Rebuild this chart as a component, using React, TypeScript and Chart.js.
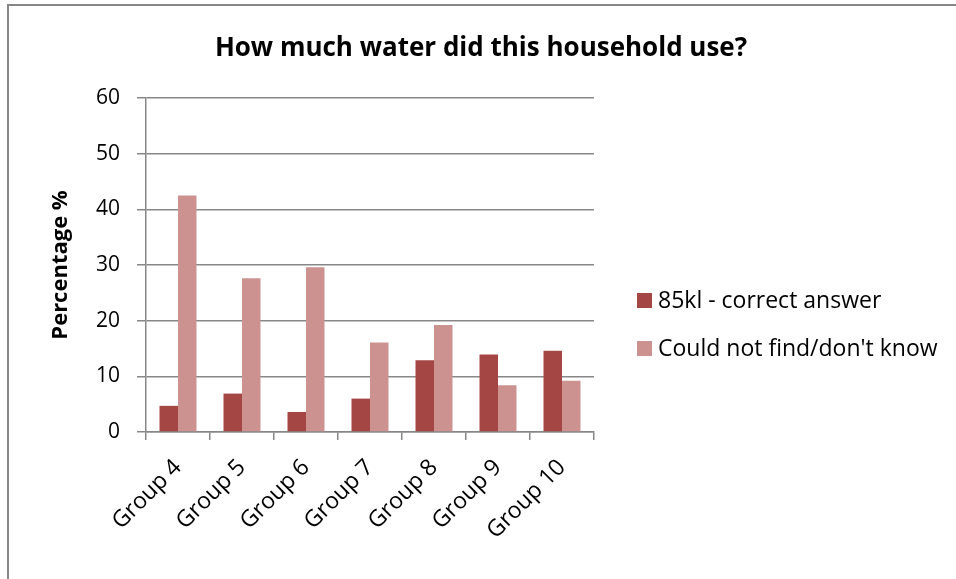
import React, { useEffect, useRef } from "react";
import { Chart, registerables } from "chart.js";

Chart.register(...registerables);

// Survey groups and the share of answers per group (%)
const categories = ["Group 4", "Group 5", "Group 6", "Group 7", "Group 8", "Group 9", "Group 10"];
const correctAnswer = [4.7, 6.9, 3.6, 6.0, 12.9, 13.9, 14.6];
const couldNotFind = [42.5, 27.6, 29.6, 16.1, 19.2, 8.4, 9.2];
const seriesNames = ["85kl - correct answer", "Could not find/don't know"];
const seriesColors = ["#A44644", "#CC9290"];
const yMin = 0;
const yMax = 60;
const yStep = 10;
const chartTitle = "How much water did this household use?";
const yAxisTitle = "Percentage %";

const FONT = "'Open Sans', 'Noto Sans', sans-serif";
const AXIS_GRAY = "#878787";

// Frame, title, rotated axis title and the side legend
const decorations = {
  id: "decorations",
  beforeDraw(chart: Chart) {
    const ctx = chart.ctx;
    ctx.save();
    ctx.fillStyle = "#ffffff";
    ctx.fillRect(0, 0, chart.width, chart.height);
    ctx.fillStyle = AXIS_GRAY;
    ctx.fillRect(7, 4, chart.width - 7, 2);
    ctx.fillRect(7, 4, 2, chart.height - 4);
    ctx.restore();
  },
  afterDraw(chart: Chart) {
    const ctx = chart.ctx;
    const area = chart.chartArea;
    ctx.save();
    ctx.fillStyle = "#000000";

    // chart title
    ctx.font = `bold 26px ${FONT}`;
    ctx.textAlign = "center";
    ctx.textBaseline = "alphabetic";
    ctx.fillText(chartTitle, 481, 56);

    // y axis title
    ctx.save();
    ctx.translate(61, (area.top + area.bottom) / 2);
    ctx.rotate(-Math.PI / 2);
    ctx.font = `bold 22px ${FONT}`;
    ctx.textAlign = "center";
    ctx.textBaseline = "middle";
    ctx.fillText(yAxisTitle, 0, 0);
    ctx.restore();

    // legend
    const ds = chart.data.datasets;
    ctx.font = `23px ${FONT}`;
    ctx.textAlign = "left";
    ctx.textBaseline = "alphabetic";
    ds.forEach((d, i) => {
      const top = 293 + i * 48;
      ctx.fillStyle = d.backgroundColor as string;
      ctx.fillRect(637, top, 15, 15);
      ctx.fillStyle = "#000000";
      ctx.fillText(String(d.label), 658, top + 15);
    });
    ctx.restore();
  },
};

export default function App() {
  const canvasRef = useRef<HTMLCanvasElement | null>(null);

  useEffect(() => {
    const canvas = canvasRef.current;
    if (!canvas) return;
    const chart = new Chart(canvas, {
      type: "bar",
      data: {
        labels: categories,
        datasets: [
          {
            label: seriesNames[0],
            data: correctAnswer,
            backgroundColor: seriesColors[0],
            barPercentage: 1,
            categoryPercentage: 0.578,
          },
          {
            label: seriesNames[1],
            data: couldNotFind,
            backgroundColor: seriesColors[1],
            barPercentage: 1,
            categoryPercentage: 0.578,
          },
        ],
      },
      options: {
        responsive: false,
        animation: false,
        events: [],
        layout: { padding: { top: 98, right: 362, bottom: 27, left: 0 } },
        plugins: {
          legend: { display: false },
          title: { display: false },
          tooltip: { enabled: false },
        },
        scales: {
          x: {
            grid: {
              offset: true,
              drawOnChartArea: false,
              drawTicks: true,
              tickLength: 8,
              color: AXIS_GRAY,
              lineWidth: 1.5,
            },
            border: { color: AXIS_GRAY, width: 1.5 },
            ticks: {
              minRotation: 45,
              maxRotation: 45,
              autoSkip: false,
              padding: 14,
              color: "#000000",
              font: { family: FONT, size: 23 },
            },
            afterFit(scale: any) {
              scale.height = 120;
            },
          },
          y: {
            min: yMin,
            max: yMax,
            ticks: {
              stepSize: yStep,
              padding: 17,
              color: "#000000",
              font: { family: FONT, size: 21 },
            },
            grid: {
              color: AXIS_GRAY,
              lineWidth: 1.5,
              tickLength: 9,
            },
            border: { color: AXIS_GRAY, width: 1.5 },
            afterFit(scale: any) {
              scale.width = 146;
            },
          },
        },
      },
      plugins: [decorations],
    });
    return () => chart.destroy();
  }, []);

  return (
    <div style={{ position: "absolute", left: 0, top: 0, width: 956, height: 579 }}>
      <canvas ref={canvasRef} width={956} height={579} style={{ display: "block" }} />
    </div>
  );
}
